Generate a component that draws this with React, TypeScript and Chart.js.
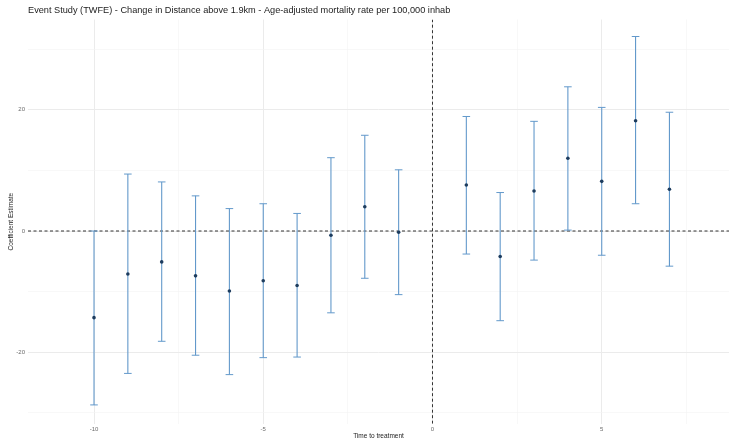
import React, { useEffect, useRef } from "react";
import { Chart, registerables } from "chart.js";

Chart.register(...registerables);

const TITLE = "Event Study (TWFE) - Change in Distance above 1.9km - Age-adjusted mortality rate per 100,000 inhab";
const X_TITLE = "Time to treatment";
const Y_TITLE = "Coefficient Estimate";

const periods = [-10, -9, -8, -7, -6, -5, -4, -3, -2, -1, 1, 2, 3, 4, 5, 6, 7];
const estimates = [-14.3, -7.1, -5.1, -7.4, -9.9, -8.2, -9.0, -0.7, 4.0, -0.2, 7.6, -4.2, 6.6, 12.0, 8.2, 18.2, 6.9];
const lowerCI = [-28.7, -23.5, -18.2, -20.5, -23.7, -20.9, -20.8, -13.5, -7.8, -10.5, -3.8, -14.8, -4.8, 0.15, -4.0, 4.5, -5.8];
const upperCI = [0, 9.4, 8.1, 5.8, 3.7, 4.5, 2.9, 12.1, 15.8, 10.1, 18.9, 6.35, 18.1, 23.8, 20.4, 32.1, 19.6];

const xMajorTicks = [-10, -5, 0, 5];
const xGridTicks = [-10, -7.5, -5, -2.5, 0, 2.5, 5, 7.5];
const yMajorTicks = [-20, 0, 20];
const yGridTicks = [-30, -20, -10, 0, 10, 20, 30];

const X_MIN = -11.95;
const X_MAX = 8.76;
const Y_MIN = -31.8;
const Y_MAX = 34.9;

const FONT = "'Liberation Sans', Arial, sans-serif";
const BAR_COLOR = "#6399cb";
const DOT_COLOR = "#1d3c5e";

export default function App() {
  const ref = useRef<HTMLCanvasElement | null>(null);

  useEffect(() => {
    if (!ref.current) return;
    const whiskers: any[] = [];
    periods.forEach((p, i) => {
      whiskers.push({ x: p, y: lowerCI[i] });
      whiskers.push({ x: p, y: upperCI[i] });
      whiskers.push({ x: p, y: null });
    });
    const caps: any[] = [];
    periods.forEach((p, i) => {
      caps.push({ x: p, y: lowerCI[i] });
      caps.push({ x: p, y: upperCI[i] });
    });
    const points = periods.map((p, i) => ({ x: p, y: estimates[i] }));

    const chart = new Chart(ref.current, {
      type: "scatter",
      data: {
        datasets: [
          {
            type: "line",
            data: [{ x: X_MIN, y: 0 }, { x: X_MAX, y: 0 }],
            borderColor: "#333333",
            borderWidth: 1,
            borderDash: [3, 2.5],
            pointRadius: 0,
            order: 5,
          } as any,
          {
            type: "line",
            data: [{ x: 0, y: Y_MIN }, { x: 0, y: Y_MAX }],
            borderColor: "#333333",
            borderWidth: 1,
            borderDash: [3, 2.5],
            pointRadius: 0,
            order: 5,
          } as any,
          {
            type: "line",
            data: whiskers,
            borderColor: BAR_COLOR,
            borderWidth: 1.1,
            pointRadius: 0,
            spanGaps: false,
            order: 3,
          } as any,
          {
            data: caps,
            pointStyle: "line",
            pointRadius: 3.8,
            borderColor: BAR_COLOR,
            borderWidth: 1,
            order: 2,
          } as any,
          {
            data: points,
            pointStyle: "circle",
            pointRadius: 1.8,
            backgroundColor: DOT_COLOR,
            borderColor: DOT_COLOR,
            borderWidth: 0,
            order: 1,
          } as any,
        ],
      },
      options: {
        animation: false,
        responsive: false,
        layout: { padding: { left: 0, right: 6, top: 0, bottom: 0 } },
        plugins: {
          legend: { display: false },
          tooltip: { enabled: false },
          title: {
            display: true,
            text: TITLE,
            align: "start",
            fullSize: false,
            color: "#222222",
            font: { family: FONT, size: 9.2, weight: "normal", lineHeight: 1.2 },
            padding: { top: 4.5, bottom: 4 },
          },
        },
        scales: {
          x: {
            type: "linear",
            min: X_MIN,
            max: X_MAX,
            afterBuildTicks: (s: any) => {
              s.ticks = xGridTicks.map((v) => ({ value: v }));
            },
            afterFit: (s: any) => {
              s.height = 16.3;
            },
            ticks: {
              autoSkip: false,
              maxRotation: 0,
              padding: 2,
              color: "#6b6b6b",
              font: { family: FONT, size: 6 },
              callback: (v: any) => (xMajorTicks.includes(Number(v)) ? String(v) : ""),
            },
            grid: {
              drawTicks: false,
              tickLength: 0,
              color: (c: any) => (xMajorTicks.includes(c.tick?.value) ? "#ebebeb" : "#f3f3f3"),
              lineWidth: (c: any) => (xMajorTicks.includes(c.tick?.value) ? 1 : 0.6),
            },
            border: { display: false },
            title: {
              display: true,
              text: X_TITLE,
              color: "#222222",
              font: { family: FONT, size: 6.5 },
              padding: { top: 0, bottom: 0 },
            },
          },
          y: {
            type: "linear",
            min: Y_MIN,
            max: Y_MAX,
            afterBuildTicks: (s: any) => {
              s.ticks = yGridTicks.map((v) => ({ value: v }));
            },
            afterFit: (s: any) => {
              s.width = 28;
            },
            ticks: {
              autoSkip: false,
              padding: 3,
              color: "#6b6b6b",
              font: { family: FONT, size: 6 },
              callback: (v: any) => (yMajorTicks.includes(Number(v)) ? String(v) : ""),
            },
            grid: {
              drawTicks: false,
              tickLength: 0,
              color: (c: any) => (yMajorTicks.includes(c.tick?.value) ? "#ebebeb" : "#f3f3f3"),
              lineWidth: (c: any) => (yMajorTicks.includes(c.tick?.value) ? 1 : 0.6),
            },
            border: { display: false },
            title: {
              display: true,
              text: Y_TITLE,
              color: "#222222",
              font: { family: FONT, size: 6.5 },
              padding: { top: 7.8, bottom: 0 },
            },
          },
        },
      } as any,
    });
    return () => chart.destroy();
  }, []);

  return (
    <div style={{ position: "fixed", left: 0, top: 0, width: 735, height: 440, background: "#ffffff" }}>
      <canvas ref={ref} width={735} height={440} style={{ display: "block", width: 735, height: 440 }} />
    </div>
  );
}
